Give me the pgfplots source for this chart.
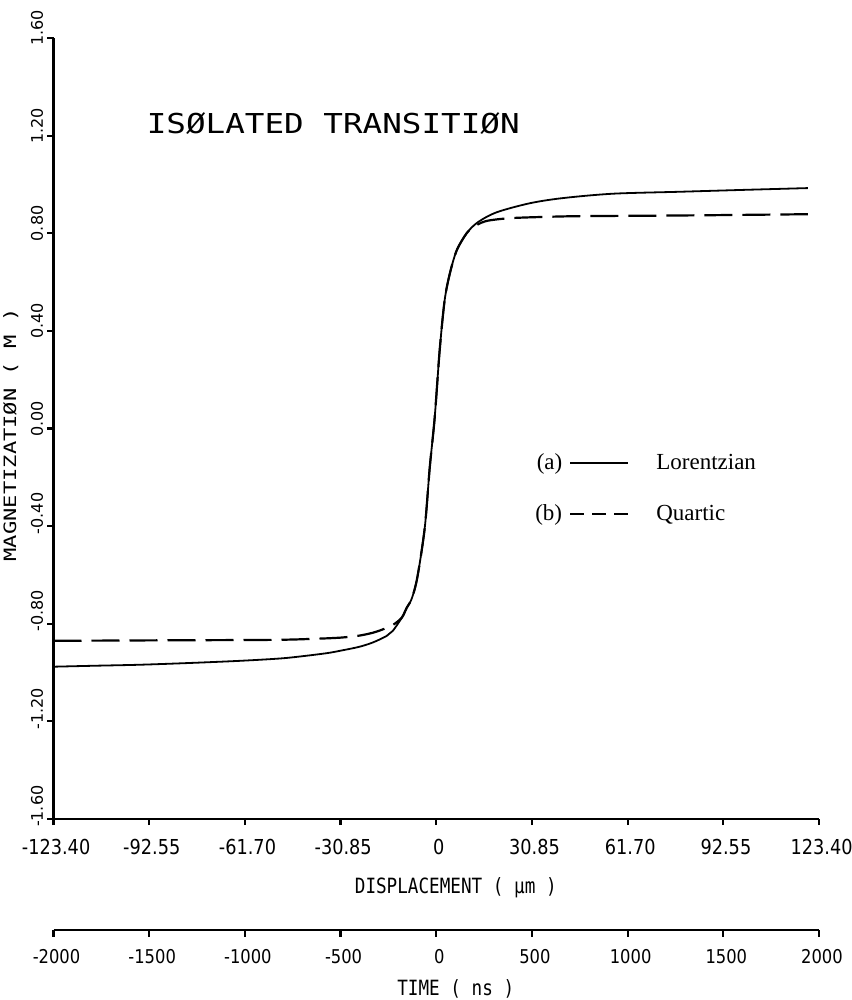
\documentclass[border=0pt]{standalone}
\usepackage{fontspec}
\usepackage{pgfplots}
\pgfplotsset{compat=1.18}
\newfontfamily\monof{DejaVu Sans Mono}
\newfontfamily\monocf[FakeStretch=0.84]{DejaVu Sans Mono}
\newfontfamily\monowf[FakeStretch=1.19]{DejaVu Sans Mono}
\newfontfamily\monoyf[FakeStretch=1.3]{DejaVu Sans Mono}
\newfontfamily\digf[FakeStretch=0.86]{DejaVu Sans}
\newfontfamily\digyf{DejaVu Sans}
\newfontfamily\serf{Liberation Serif}
\newcommand\xtf{\digf\fontsize{10.3}{12}\selectfont}
\newcommand\ttf{\digf\fontsize{9.5}{11}\selectfont}
\newcommand\ytf{\digyf\fontsize{8}{10}\selectfont}
\newcommand\labf{\monocf\fontsize{10.5}{12}\selectfont}
\newcommand\ylabf{\monoyf\fontsize{8.5}{10}\selectfont}
\newcommand\titf{\monowf\fontsize{13.7}{16}\selectfont}
\newcommand\legf{\serf\fontsize{11.5}{13}\selectfont}
\begin{document}
\begin{tikzpicture}
\begin{axis}[
  scale only axis, width=382.75pt, height=390.5pt,
  xmin=-123.4, xmax=123.4, ymin=-1.6, ymax=1.6,
  axis lines=left, axis line style={-, line width=1.1pt},
  tick align=outside, major tick length=3pt,
  tick style={black, line width=1.1pt},
  xtick={-123.4,-92.55,-61.7,-30.85,0,30.85,61.7,92.55,123.4},
  xticklabels={-123.40,-92.55,-61.70,-30.85,0,30.85,61.70,92.55,123.40},
  ytick={-1.6,-1.2,-0.8,-0.4,0,0.4,0.8,1.2,1.6},
  yticklabels={-1.60,-1.20,-0.80,-0.40,0.00,0.40,0.80,1.20,1.60},
  xticklabel style={font=\xtf, anchor=north, inner sep=0pt, xshift=1.3pt, yshift=-7pt},
  yticklabel style={font=\ytf, inner sep=0pt, xshift=-2pt, yshift=-4.2pt, rotate=90, anchor=south west},
  xlabel={DISPLACEMENT ( μm )},
  xlabel style={font=\labf, at={(axis description cs:0.5255,0)}, anchor=center, yshift=-34.5pt},
  ylabel={MAGNETIZATIØN ( M )},
  ylabel style={font=\ylabf, at={(axis description cs:-0.0366,0.4917)}, anchor=south},
  legend cell align=left,
  legend style={draw=none, fill=none, inner sep=0pt, font=\legf,
    at={(axis description cs:0.6289,0.4232)}, anchor=west,
    nodes={inner sep=0pt}, row sep=16pt, column sep=13.5pt},
]
\addplot[black, line width=0.9pt, smooth,
  legend image code/.code={\node[anchor=east, inner sep=0pt, font=\legf] at (-3.5pt,0pt) {(a)};
    \draw[black, line width=0.9pt] (0pt,0pt) -- (29pt,0pt);}]
  table {
x y
-123.4 -0.976
-110 -0.972
-95.7 -0.968
-80 -0.961
-63.4 -0.952
-50 -0.942
-41.8 -0.931
-35 -0.920
-31.1 -0.911
-25 -0.895
-20.5 -0.877
-16 -0.850
-14 -0.829
-11.1 -0.775
-9.5 -0.734
-7.9 -0.697
-6.1 -0.610
-3.7 -0.406
-2.1 -0.160
-0.5 0.045
1.1 0.320
2.7 0.525
4.4 0.636
6.6 0.730
9.8 0.800
13.4 0.845
19.5 0.886
30.2 0.923
40.8 0.944
57 0.962
78.6 0.970
100 0.978
119.8 0.985
};
\addlegendentry{Lorentzian}
\addplot[black, line width=1.1pt, smooth, dash pattern=on 14pt off 5pt,
  legend image code/.code={\node[anchor=east, inner sep=0pt, font=\legf] at (-3.5pt,0pt) {(b)};
    \draw[black, line width=1.1pt, dash pattern=on 7pt off 4pt] (0pt,0pt) -- (29pt,0pt);}]
  table {
x y
-123.4 -0.870
-90 -0.868
-52.7 -0.866
-40 -0.862
-31 -0.857
-25 -0.849
-20.5 -0.837
-17 -0.822
-14 -0.805
-11.1 -0.775
-9.5 -0.734
-7.9 -0.697
-6.1 -0.610
-3.7 -0.406
-2.1 -0.160
-0.5 0.045
1.1 0.320
2.7 0.525
4.4 0.636
6.6 0.730
9.8 0.800
12 0.825
14.5 0.843
17.3 0.853
24 0.862
35 0.867
46 0.870
70 0.872
89 0.874
119.8 0.878
};
\addlegendentry{Quartic}
\node[font=\titf, inner sep=0pt] at (axis cs:-33.2,1.251) {ISØLATED TRANSITIØN};
\end{axis}
\begin{axis}[
  at={(0pt,-55.5pt)}, anchor=south west,
  scale only axis, width=382.75pt, height=1pt,
  xmin=-2000, xmax=2000, ymin=0, ymax=1,
  axis x line=bottom, axis y line=none,
  axis line style={-, line width=1.1pt},
  tick align=outside, major tick length=3.5pt,
  tick style={black, line width=1.1pt},
  xtick={-2000,-1500,-1000,-500,0,500,1000,1500,2000},
  xticklabels={-2000,-1500,-1000,-500,0,500,1000,1500,2000},
  xticklabel style={font=\ttf, anchor=north, inner sep=0pt, xshift=1.5pt, yshift=-6pt},
  xlabel={TIME ( ns )},
  xlabel style={font=\labf, at={(axis description cs:0.5255,0)}, anchor=center, yshift=-29.5pt},
]
\end{axis}
\pgfresetboundingbox
\path[use as bounding box] (-26.75pt,-90.5pt) rectangle (398.75pt,409.5pt);
\end{tikzpicture}
\end{document}
